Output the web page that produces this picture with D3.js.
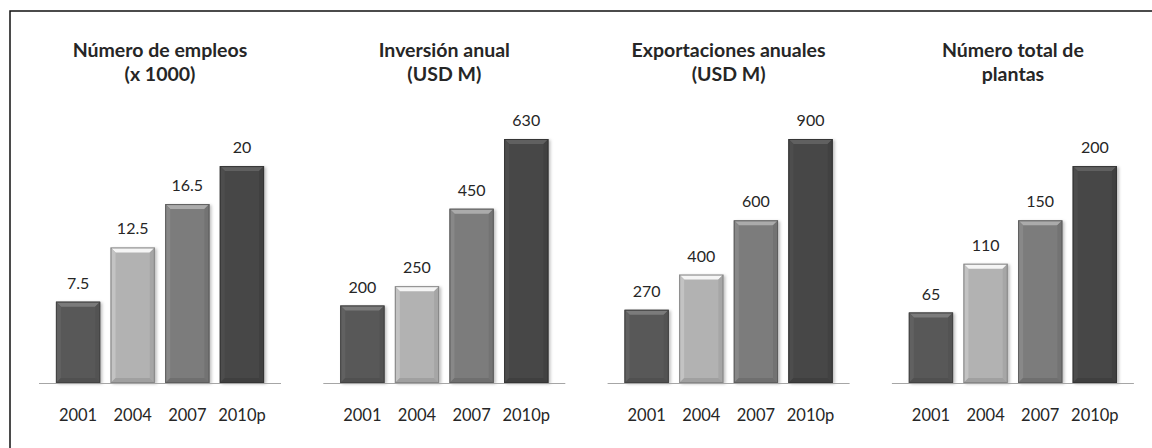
<!DOCTYPE html>
<html lang="es">
<head>
<meta charset="utf-8">
<title>Indicadores</title>
<script src="https://cdn.jsdelivr.net/npm/d3@7"></script>
<style>
  body { margin: 0; background: #fff; }
  svg { display: block; }
  text { font-family: Lato, "Open Sans", sans-serif; fill: #262626; }
</style>
</head>
<body>
<svg id="chart" width="1152" height="448"></svg>
<script>
// data
const years = ['2001', '2004', '2007', '2010p'];
const titles = [
  ['Número de empleos', '(x 1000)'],
  ['Inversión anual', '(USD M)'],
  ['Exportaciones anuales', '(USD M)'],
  ['Número total de', 'plantas']
];
const empleos = [7.5, 12.5, 16.5, 20];
const inversion = [200, 250, 450, 630];
const exportaciones = [270, 400, 600, 900];
const plantas = [65, 110, 150, 200];
const series = [empleos, inversion, exportaciones, plantas];
const yMax = [22.5, 630, 900, 225];
const barColors = ['#595959', '#b2b2b2', '#7c7c7c', '#464646'];

let svg = d3.select('#chart');
let baseY = 383, topY = 139;
let panelW = 242, panelStep = 284.3, panelX0 = 39;
let bev = 5;

// frame
svg.append('rect')
  .attr('x', 10).attr('y', 11)
  .attr('width', 1200).attr('height', 500)
  .attr('fill', 'none').attr('stroke', '#111').attr('stroke-width', 1.5);

let defs = svg.append('defs');
defs.append('filter').attr('id', 'shadow')
  .attr('x', '-20%').attr('y', '-10%').attr('width', '150%').attr('height', '130%')
  .append('feDropShadow')
  .attr('dx', 2).attr('dy', 1).attr('stdDeviation', 1.5)
  .attr('flood-color', '#000').attr('flood-opacity', 0.25);

let x = d3.scaleBand().domain(years).range([0, panelW])
  .paddingInner(0.19).paddingOuter(0.31);

function drawBar(g, x0, x1, y0, y1, col) {
  let c = d3.color(col);
  let w = x1 - x0;
  g.append('rect').attr('x', x0).attr('y', y0).attr('width', w).attr('height', y1 - y0)
    .attr('fill', col).attr('filter', 'url(#shadow)');
  let pts = [
    [[x0, y0], [x1, y0], [x1 - bev, y0 + bev], [x0 + bev, y0 + bev], c.brighter(0.9)],
    [[x0, y0], [x0 + bev, y0 + bev], [x0 + bev, y1 - bev], [x0, y1], c.brighter(0.25)],
    [[x1, y0], [x1 - bev, y0 + bev], [x1 - bev, y1 - bev], [x1, y1], c.darker(0.2)],
    [[x0, y1], [x0 + bev, y1 - bev], [x1 - bev, y1 - bev], [x1, y1], c.darker(0.3)]
  ];
  pts.forEach(p => {
    g.append('polygon')
      .attr('points', p.slice(0, 4).map(d => d.join(',')).join(' '))
      .attr('fill', p[4].formatHex());
  });
  g.append('rect').attr('x', x0 + 0.5).attr('y', y0 + 0.5).attr('width', w - 1).attr('height', y1 - y0 - 1)
    .attr('fill', 'none').attr('stroke', c.darker(0.8).formatHex()).attr('stroke-width', 1);
}

series.forEach((vals, i) => {
  let g = svg.append('g')
    .attr('transform', `translate(${panelX0 + i * panelStep}, 0)`);
  let y = d3.scaleLinear().domain([0, yMax[i]]).range([baseY, topY]);

  // title
  let t = g.append('text')
    .attr('x', panelW / 2).attr('y', 57)
    .attr('text-anchor', 'middle')
    .style('font-size', '19.5px').style('font-weight', 'bold');
  t.append('tspan').attr('x', panelW / 2).text(titles[i][0]);
  t.append('tspan').attr('x', panelW / 2).attr('dy', 24).text(titles[i][1]);

  vals.forEach((v, j) => {
    let bx = x(years[j]);
    drawBar(g, bx, bx + x.bandwidth(), y(v), baseY, barColors[j]);
    g.append('text')
      .attr('x', bx + x.bandwidth() / 2).attr('y', y(v) - 13)
      .attr('text-anchor', 'middle')
      .style('font-size', '16px')
      .text(String(v));
  });

  // baseline and year labels
  g.append('line')
    .attr('x1', 0).attr('x2', panelW)
    .attr('y1', baseY + 0.5).attr('y2', baseY + 0.5)
    .attr('stroke', '#a6a6a6').attr('stroke-width', 1);
  g.selectAll('.yr').data(years).enter().append('text')
    .attr('x', d => x(d) + x.bandwidth() / 2)
    .attr('y', 421)
    .attr('text-anchor', 'middle')
    .style('font-size', '16.5px')
    .text(d => d);
});
</script>
</body>
</html>
